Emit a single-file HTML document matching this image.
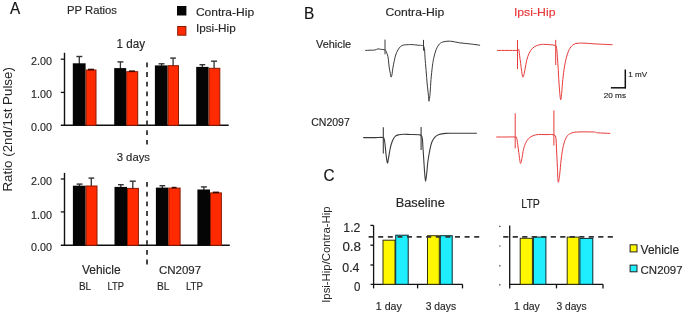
<!DOCTYPE html>
<html><head><meta charset="utf-8"><style>
html,body{margin:0;padding:0;background:#fff;width:685px;height:315px;overflow:hidden}
svg{display:block;font-family:"Liberation Sans",sans-serif;will-change:transform}
</style></head><body>
<svg width="685" height="315" viewBox="0 0 685 315">
<rect width="685" height="315" fill="#fff"/>
<text x="9.9" y="14.0" font-size="16" textLength="10.2" lengthAdjust="spacingAndGlyphs" fill="#111" stroke="#111" stroke-width="0.15" >A</text>
<text x="67.0" y="14.1" font-size="11" textLength="50.0" lengthAdjust="spacingAndGlyphs" fill="#262626" stroke="#262626" stroke-width="0.15" >PP Ratios</text>
<rect x="177.0" y="6.0" width="9.4" height="9.5" fill="#050505"/>
<rect x="177.7" y="26.5" width="8.2" height="8.7" fill="#ff2a00" stroke="#8a1a00" stroke-width="1"/>
<text x="195.9" y="15.5" font-size="11" textLength="58.2" lengthAdjust="spacingAndGlyphs" fill="#262626" stroke="#262626" stroke-width="0.15" >Contra-Hip</text>
<text x="195.9" y="32.2" font-size="11" textLength="39.8" lengthAdjust="spacingAndGlyphs" fill="#262626" stroke="#262626" stroke-width="0.15" >Ipsi-Hip</text>
<text x="116.6" y="47.7" font-size="12" textLength="28.5" lengthAdjust="spacingAndGlyphs" fill="#262626" stroke="#262626" stroke-width="0.15" >1 day</text>
<text x="116.7" y="161.4" font-size="11" textLength="33.3" lengthAdjust="spacingAndGlyphs" fill="#262626" stroke="#262626" stroke-width="0.15" >3 days</text>
<line x1="64.5" y1="52.8" x2="64.5" y2="125.3" stroke="#111" stroke-width="1.4" />
<line x1="60.8" y1="125.3" x2="228.7" y2="125.3" stroke="#111" stroke-width="1.4" />
<line x1="60.8" y1="59.2" x2="64.5" y2="59.2" stroke="#111" stroke-width="1.3" />
<line x1="60.8" y1="92.4" x2="64.5" y2="92.4" stroke="#111" stroke-width="1.3" />
<line x1="79.3" y1="56.5" x2="79.3" y2="64.3" stroke="#333" stroke-width="1.3" />
<line x1="76.4" y1="56.5" x2="82.3" y2="56.5" stroke="#333" stroke-width="1.4" />
<rect x="72.8" y="63.3" width="12.8" height="62.0" fill="#050505"/>
<rect x="86.1" y="70.0" width="9.9" height="55.3" fill="#ff2a00" stroke="#8a1a00" stroke-width="1"/>
<line x1="88.0" y1="69.5" x2="94.0" y2="69.5" stroke="#3a0800" stroke-width="1.6" />
<line x1="120.4" y1="61.9" x2="120.4" y2="69.1" stroke="#333" stroke-width="1.3" />
<line x1="117.4" y1="61.9" x2="123.4" y2="61.9" stroke="#333" stroke-width="1.4" />
<rect x="114.2" y="68.1" width="12.0" height="57.2" fill="#050505"/>
<rect x="126.7" y="71.7" width="11.0" height="53.6" fill="#ff2a00" stroke="#8a1a00" stroke-width="1"/>
<line x1="129.0" y1="71.2" x2="135.0" y2="71.2" stroke="#3a0800" stroke-width="1.6" />
<line x1="161.6" y1="63.8" x2="161.6" y2="66.4" stroke="#333" stroke-width="1.3" />
<line x1="158.6" y1="63.8" x2="164.5" y2="63.8" stroke="#333" stroke-width="1.4" />
<rect x="154.9" y="65.4" width="12.7" height="59.9" fill="#050505"/>
<line x1="173.1" y1="58.1" x2="173.1" y2="66.2" stroke="#333" stroke-width="1.3" />
<line x1="170.2" y1="58.1" x2="175.9" y2="58.1" stroke="#333" stroke-width="1.4" />
<rect x="168.1" y="65.7" width="10.4" height="59.6" fill="#ff2a00" stroke="#8a1a00" stroke-width="1"/>
<line x1="202.3" y1="64.7" x2="202.3" y2="67.9" stroke="#333" stroke-width="1.3" />
<line x1="199.5" y1="64.7" x2="205.2" y2="64.7" stroke="#333" stroke-width="1.4" />
<rect x="196.2" y="66.9" width="12.4" height="58.4" fill="#050505"/>
<line x1="214.1" y1="61.2" x2="214.1" y2="68.8" stroke="#333" stroke-width="1.3" />
<line x1="211.1" y1="61.2" x2="217.1" y2="61.2" stroke="#333" stroke-width="1.4" />
<rect x="209.1" y="68.3" width="10.7" height="57.0" fill="#ff2a00" stroke="#8a1a00" stroke-width="1"/>
<line x1="64.5" y1="172.9" x2="64.5" y2="245.3" stroke="#111" stroke-width="1.4" />
<line x1="60.8" y1="245.3" x2="229.8" y2="245.3" stroke="#111" stroke-width="1.4" />
<line x1="60.8" y1="179.0" x2="64.5" y2="179.0" stroke="#111" stroke-width="1.3" />
<line x1="60.8" y1="211.9" x2="64.5" y2="211.9" stroke="#111" stroke-width="1.3" />
<line x1="79.5" y1="184.1" x2="79.5" y2="186.7" stroke="#333" stroke-width="1.3" />
<line x1="76.6" y1="184.1" x2="82.5" y2="184.1" stroke="#333" stroke-width="1.4" />
<rect x="72.9" y="185.7" width="12.7" height="59.6" fill="#050505"/>
<line x1="91.3" y1="178.1" x2="91.3" y2="186.5" stroke="#333" stroke-width="1.3" />
<line x1="88.5" y1="178.1" x2="94.2" y2="178.1" stroke="#333" stroke-width="1.4" />
<rect x="86.1" y="186.0" width="10.9" height="59.3" fill="#ff2a00" stroke="#8a1a00" stroke-width="1"/>
<line x1="120.8" y1="184.7" x2="120.8" y2="187.9" stroke="#333" stroke-width="1.3" />
<line x1="118.0" y1="184.7" x2="123.7" y2="184.7" stroke="#333" stroke-width="1.4" />
<rect x="114.5" y="186.9" width="12.5" height="58.4" fill="#050505"/>
<line x1="132.8" y1="181.2" x2="132.8" y2="188.9" stroke="#333" stroke-width="1.3" />
<line x1="129.7" y1="181.2" x2="135.8" y2="181.2" stroke="#333" stroke-width="1.4" />
<rect x="127.5" y="188.4" width="10.9" height="56.9" fill="#ff2a00" stroke="#8a1a00" stroke-width="1"/>
<line x1="162.3" y1="185.7" x2="162.3" y2="188.6" stroke="#333" stroke-width="1.3" />
<line x1="159.5" y1="185.7" x2="165.2" y2="185.7" stroke="#333" stroke-width="1.4" />
<rect x="155.9" y="187.6" width="12.4" height="57.7" fill="#050505"/>
<rect x="168.8" y="188.1" width="11.3" height="57.2" fill="#ff2a00" stroke="#8a1a00" stroke-width="1"/>
<line x1="171.7" y1="187.6" x2="176.6" y2="187.6" stroke="#3a0800" stroke-width="1.6" />
<line x1="203.9" y1="186.9" x2="203.9" y2="190.5" stroke="#333" stroke-width="1.3" />
<line x1="200.9" y1="186.9" x2="206.9" y2="186.9" stroke="#333" stroke-width="1.4" />
<rect x="197.4" y="189.5" width="12.6" height="55.8" fill="#050505"/>
<rect x="210.5" y="192.9" width="10.9" height="52.4" fill="#ff2a00" stroke="#8a1a00" stroke-width="1"/>
<line x1="212.8" y1="192.4" x2="219.0" y2="192.4" stroke="#3a0800" stroke-width="1.6" />
<text x="31.0" y="64.5" font-size="11.5" textLength="20.9" lengthAdjust="spacingAndGlyphs" fill="#262626" stroke="#262626" stroke-width="0.15" >2.00</text>
<text x="31.0" y="97.8" font-size="11.5" textLength="20.9" lengthAdjust="spacingAndGlyphs" fill="#262626" stroke="#262626" stroke-width="0.15" >1.00</text>
<text x="31.0" y="131.4" font-size="11.5" textLength="20.9" lengthAdjust="spacingAndGlyphs" fill="#262626" stroke="#262626" stroke-width="0.15" >0.00</text>
<text x="31.0" y="184.7" font-size="11.5" textLength="20.9" lengthAdjust="spacingAndGlyphs" fill="#262626" stroke="#262626" stroke-width="0.15" >2.00</text>
<text x="31.0" y="218.5" font-size="11.5" textLength="20.9" lengthAdjust="spacingAndGlyphs" fill="#262626" stroke="#262626" stroke-width="0.15" >1.00</text>
<text x="31.0" y="251.3" font-size="11.5" textLength="20.9" lengthAdjust="spacingAndGlyphs" fill="#262626" stroke="#262626" stroke-width="0.15" >0.00</text>
<line x1="147.0" y1="62.4" x2="147.0" y2="144.5" stroke="#333" stroke-width="1.8" stroke-dasharray="4.8 4.9"/>
<line x1="147.0" y1="182.0" x2="147.0" y2="264.5" stroke="#333" stroke-width="1.8" stroke-dasharray="4.8 4.9"/>
<text x="81.9" y="273.6" font-size="12" textLength="38.7" lengthAdjust="spacingAndGlyphs" fill="#262626" stroke="#262626" stroke-width="0.15" >Vehicle</text>
<text x="158.9" y="273.6" font-size="11" textLength="42.2" lengthAdjust="spacingAndGlyphs" fill="#262626" stroke="#262626" stroke-width="0.15" >CN2097</text>
<text x="78.9" y="289.8" font-size="11" textLength="12.2" lengthAdjust="spacingAndGlyphs" fill="#262626" stroke="#262626" stroke-width="0.15" >BL</text>
<text x="107.4" y="289.8" font-size="11" textLength="16.5" lengthAdjust="spacingAndGlyphs" fill="#262626" stroke="#262626" stroke-width="0.15" >LTP</text>
<text x="157.0" y="289.8" font-size="11" textLength="12.4" lengthAdjust="spacingAndGlyphs" fill="#262626" stroke="#262626" stroke-width="0.15" >BL</text>
<text x="185.9" y="289.8" font-size="11" textLength="17.1" lengthAdjust="spacingAndGlyphs" fill="#262626" stroke="#262626" stroke-width="0.15" >LTP</text>
<text x="0" y="0" font-size="12" fill="#262626" textLength="124.5" lengthAdjust="spacingAndGlyphs" transform="translate(12.0,191.6) rotate(-90)">Ratio (2nd/1st Pulse)</text>
<text x="304.1" y="18.9" font-size="16" textLength="10.3" lengthAdjust="spacingAndGlyphs" fill="#111" stroke="#111" stroke-width="0.15" >B</text>
<text x="385.4" y="15.8" font-size="11.3" textLength="58.9" lengthAdjust="spacingAndGlyphs" fill="#262626" stroke="#262626" stroke-width="0.15" >Contra-Hip</text>
<text x="513.9" y="15.8" font-size="11.3" textLength="41.6" lengthAdjust="spacingAndGlyphs" fill="#e8383b" stroke="#e8383b" stroke-width="0.15" >Ipsi-Hip</text>
<text x="316.0" y="47.6" font-size="11" textLength="35.2" lengthAdjust="spacingAndGlyphs" fill="#262626" stroke="#262626" stroke-width="0.15" >Vehicle</text>
<text x="311.2" y="126.4" font-size="10.5" textLength="38.6" lengthAdjust="spacingAndGlyphs" fill="#262626" stroke="#262626" stroke-width="0.15" >CN2097</text>
<path d="M365.60,50.40 C366.33,50.37 368.47,50.27 370.00,50.20 C371.53,50.13 373.48,50.22 374.80,50.00 C376.12,49.78 376.92,49.02 377.90,48.90 C378.88,48.78 379.63,49.17 380.70,49.30 C381.77,49.43 383.47,49.50 384.30,49.70 C385.13,49.90 385.10,49.38 385.70,50.50 C386.30,51.62 387.42,54.47 387.90,56.40 C388.38,58.33 388.37,60.18 388.60,62.10 C388.83,64.02 389.00,65.98 389.30,67.90 C389.60,69.82 390.12,72.07 390.40,73.60 C390.68,75.13 390.75,76.87 391.00,77.10 C391.25,77.33 391.58,76.53 391.90,75.00 C392.22,73.47 392.50,70.28 392.90,67.90 C393.30,65.52 393.83,62.85 394.30,60.70 C394.77,58.55 395.10,56.78 395.70,55.00 C396.30,53.22 397.07,51.43 397.90,50.00 C398.73,48.57 399.75,47.23 400.70,46.40 C401.65,45.57 402.40,45.28 403.60,45.00 C404.80,44.72 406.50,44.77 407.90,44.70 C409.30,44.63 410.10,44.50 412.00,44.60 C413.90,44.70 417.50,45.12 419.30,45.30 C421.10,45.48 421.95,45.18 422.80,45.70 C423.65,46.22 424.03,46.47 424.40,48.40 C424.77,50.33 424.72,53.60 425.00,57.30 C425.28,61.00 425.73,66.15 426.10,70.60 C426.47,75.05 426.82,79.92 427.20,84.00 C427.58,88.08 428.10,92.23 428.40,95.10 C428.70,97.97 428.72,101.57 429.00,101.20 C429.28,100.83 429.77,96.52 430.10,92.90 C430.43,89.28 430.62,83.95 431.00,79.50 C431.38,75.05 431.92,69.90 432.40,66.20 C432.88,62.50 433.27,60.08 433.90,57.30 C434.53,54.52 435.27,51.73 436.20,49.50 C437.13,47.27 438.20,45.20 439.50,43.90 C440.80,42.60 442.15,42.15 444.00,41.70 C445.85,41.25 448.02,41.02 450.60,41.20 C453.18,41.38 456.13,42.33 459.50,42.80 C462.87,43.27 467.43,43.60 470.80,44.00 C474.17,44.40 478.22,45.00 479.70,45.20" fill="none" stroke="#3a3a3a" stroke-width="1.0" stroke-linejoin="round" stroke-linecap="round"/>
<line x1="385.0" y1="39.6" x2="385.0" y2="54.3" stroke="#3a3a3a" stroke-width="1.0" />
<line x1="423.5" y1="39.9" x2="423.5" y2="50.6" stroke="#3a3a3a" stroke-width="1.0" />
<path d="M363.60,137.60 C365.50,137.60 371.77,137.60 375.00,137.60 C378.23,137.60 381.42,137.08 383.00,137.60 C384.58,138.12 384.12,139.13 384.50,140.70 C384.88,142.27 385.03,144.62 385.30,147.00 C385.57,149.38 385.75,152.33 386.10,155.00 C386.45,157.67 387.00,162.47 387.40,163.00 C387.80,163.53 388.13,160.07 388.50,158.20 C388.87,156.33 389.20,153.92 389.60,151.80 C390.00,149.68 390.28,147.62 390.90,145.50 C391.52,143.38 392.50,140.70 393.30,139.10 C394.10,137.50 394.77,136.62 395.70,135.90 C396.63,135.18 397.58,135.07 398.90,134.80 C400.22,134.53 401.75,134.35 403.60,134.30 C405.45,134.25 407.27,134.40 410.00,134.50 C412.73,134.60 417.97,134.35 420.00,134.90 C422.03,135.45 421.72,135.83 422.20,137.80 C422.68,139.77 422.63,142.98 422.90,146.70 C423.17,150.42 423.50,155.63 423.80,160.10 C424.10,164.57 424.40,169.98 424.70,173.50 C425.00,177.02 425.27,181.20 425.60,181.20 C425.93,181.20 426.33,176.65 426.70,173.50 C427.07,170.35 427.32,166.02 427.80,162.30 C428.28,158.58 428.93,154.53 429.60,151.20 C430.27,147.87 430.92,144.65 431.80,142.30 C432.68,139.95 433.70,138.40 434.90,137.10 C436.10,135.80 437.22,135.12 439.00,134.50 C440.78,133.88 443.02,133.60 445.60,133.40 C448.18,133.20 449.37,133.32 454.50,133.30 C459.63,133.28 472.75,133.30 476.40,133.30" fill="none" stroke="#3a3a3a" stroke-width="1.1" stroke-linejoin="round" stroke-linecap="round"/>
<line x1="383.3" y1="127.2" x2="383.3" y2="153.4" stroke="#3a3a3a" stroke-width="1.1" />
<line x1="421.1" y1="127.1" x2="421.1" y2="150.1" stroke="#3a3a3a" stroke-width="1.1" />
<path d="M497.40,50.40 C499.00,50.40 503.70,50.40 507.00,50.40 C510.30,50.40 515.23,50.50 517.20,50.40 C519.17,50.30 518.40,48.93 518.80,49.80 C519.20,50.67 519.28,53.30 519.60,55.60 C519.92,57.90 520.35,60.95 520.70,63.60 C521.05,66.25 521.35,69.25 521.70,71.50 C522.05,73.75 522.43,76.57 522.80,77.10 C523.17,77.63 523.50,76.17 523.90,74.70 C524.30,73.23 524.73,70.68 525.20,68.30 C525.67,65.92 526.05,62.90 526.70,60.40 C527.35,57.90 528.17,55.28 529.10,53.30 C530.03,51.32 531.10,49.75 532.30,48.50 C533.50,47.25 534.85,46.47 536.30,45.80 C537.75,45.13 539.55,44.73 541.00,44.50 C542.45,44.27 542.67,44.25 545.00,44.40 C547.33,44.55 553.07,44.75 555.00,45.40 C556.93,46.05 556.20,46.33 556.60,48.30 C557.00,50.27 557.12,53.48 557.40,57.20 C557.68,60.92 558.00,65.78 558.30,70.60 C558.60,75.42 558.82,81.27 559.20,86.10 C559.58,90.93 560.18,98.48 560.60,99.60 C561.02,100.72 561.33,96.17 561.70,92.80 C562.07,89.43 562.32,83.85 562.80,79.40 C563.28,74.95 563.93,69.98 564.60,66.10 C565.27,62.22 565.92,59.07 566.80,56.10 C567.68,53.13 568.72,50.27 569.90,48.30 C571.08,46.33 572.50,45.15 573.90,44.30 C575.30,43.45 576.45,43.38 578.30,43.20 C580.15,43.02 582.22,43.08 585.00,43.20 C587.78,43.32 590.47,43.65 595.00,43.90 C599.53,44.15 609.33,44.57 612.20,44.70" fill="none" stroke="#e83a3a" stroke-width="1.0" stroke-linejoin="round" stroke-linecap="round"/>
<line x1="517.5" y1="40.1" x2="517.5" y2="69.1" stroke="#e83a3a" stroke-width="1.0" />
<line x1="555.7" y1="39.9" x2="555.7" y2="65.0" stroke="#e83a3a" stroke-width="1.0" />
<path d="M496.70,137.00 C498.08,137.00 501.92,137.00 505.00,137.00 C508.08,137.00 513.25,136.83 515.20,137.00 C517.15,137.17 516.28,136.78 516.70,138.00 C517.12,139.22 517.35,141.88 517.70,144.30 C518.05,146.72 518.35,149.33 518.80,152.50 C519.25,155.67 519.88,162.27 520.40,163.30 C520.92,164.33 521.38,161.02 521.90,158.70 C522.42,156.38 522.82,152.15 523.50,149.40 C524.18,146.65 525.07,144.08 526.00,142.20 C526.93,140.32 527.90,139.20 529.10,138.10 C530.30,137.00 531.65,136.20 533.20,135.60 C534.75,135.00 536.43,134.67 538.40,134.50 C540.37,134.33 542.55,134.57 545.00,134.60 C547.45,134.63 551.30,134.23 553.10,134.70 C554.90,135.17 555.22,134.68 555.80,137.40 C556.38,140.12 556.33,146.03 556.60,151.00 C556.87,155.97 557.13,162.03 557.40,167.20 C557.67,172.37 557.83,180.65 558.20,182.00 C558.57,183.35 559.10,179.12 559.60,175.30 C560.10,171.48 560.57,164.07 561.20,159.10 C561.83,154.13 562.50,149.20 563.40,145.50 C564.30,141.80 565.38,138.92 566.60,136.90 C567.82,134.88 568.90,134.22 570.70,133.40 C572.50,132.58 573.58,132.23 577.40,132.00 C581.22,131.77 590.22,131.87 593.60,132.00 C596.98,132.13 594.98,132.57 597.70,132.80 C600.42,133.03 607.87,133.30 609.90,133.40" fill="none" stroke="#e83a3a" stroke-width="1.0" stroke-linejoin="round" stroke-linecap="round"/>
<line x1="515.2" y1="113.3" x2="515.2" y2="148.4" stroke="#e83a3a" stroke-width="1.0" />
<line x1="553.9" y1="110.4" x2="553.9" y2="145.5" stroke="#e83a3a" stroke-width="1.0" />
<line x1="625.3" y1="69.5" x2="625.3" y2="88.3" stroke="#111" stroke-width="1.5" />
<line x1="610.9" y1="87.8" x2="626.0" y2="87.8" stroke="#111" stroke-width="1.5" />
<text x="628.3" y="77.4" font-size="7.5" textLength="18.8" lengthAdjust="spacingAndGlyphs" fill="#262626" stroke="#262626" stroke-width="0.15" >1 mV</text>
<text x="603.7" y="98.3" font-size="8" textLength="22.3" lengthAdjust="spacingAndGlyphs" fill="#262626" stroke="#262626" stroke-width="0.15" >20 ms</text>
<text x="323.6" y="181.0" font-size="16" textLength="11.1" lengthAdjust="spacingAndGlyphs" fill="#111" stroke="#111" stroke-width="0.15" >C</text>
<text x="395.7" y="207.4" font-size="12" textLength="49.1" lengthAdjust="spacingAndGlyphs" fill="#262626" stroke="#262626" stroke-width="0.15" >Baseline</text>
<text x="521.3" y="207.6" font-size="12.3" textLength="18.6" lengthAdjust="spacingAndGlyphs" fill="#262626" stroke="#262626" stroke-width="0.15" >LTP</text>
<line x1="373.6" y1="225.4" x2="373.6" y2="288.4" stroke="#111" stroke-width="1.3" />
<line x1="370.6" y1="284.3" x2="462.5" y2="284.3" stroke="#111" stroke-width="1.3" />
<line x1="417.6" y1="284.3" x2="417.6" y2="288.4" stroke="#111" stroke-width="1.3" />
<line x1="462.5" y1="284.3" x2="462.5" y2="288.4" stroke="#111" stroke-width="1.3" />
<line x1="370.4" y1="225.4" x2="373.6" y2="225.4" stroke="#111" stroke-width="1.3" />
<line x1="370.4" y1="245.2" x2="373.6" y2="245.2" stroke="#111" stroke-width="1.3" />
<line x1="370.4" y1="265.0" x2="373.6" y2="265.0" stroke="#111" stroke-width="1.3" />
<rect x="383.0" y="240.2" width="12.0" height="44.1" fill="#fff700" stroke="#33330a" stroke-width="1"/>
<rect x="395.7" y="235.2" width="12.5" height="49.1" fill="#1eeefd" stroke="#0a2a30" stroke-width="1"/>
<rect x="427.5" y="235.7" width="11.8" height="48.6" fill="#fff700" stroke="#33330a" stroke-width="1"/>
<rect x="440.3" y="235.7" width="11.9" height="48.6" fill="#1eeefd" stroke="#0a2a30" stroke-width="1"/>
<line x1="509.7" y1="225.4" x2="509.7" y2="288.4" stroke="#111" stroke-width="1.3" />
<line x1="509.1" y1="284.3" x2="603.0" y2="284.3" stroke="#111" stroke-width="1.3" />
<line x1="556.5" y1="284.3" x2="556.5" y2="288.4" stroke="#111" stroke-width="1.3" />
<line x1="603.0" y1="284.3" x2="603.0" y2="288.4" stroke="#111" stroke-width="1.3" />
<rect x="520.2" y="238.3" width="12.2" height="46.0" fill="#fff700" stroke="#33330a" stroke-width="1"/>
<rect x="533.4" y="237.1" width="12.5" height="47.2" fill="#1eeefd" stroke="#0a2a30" stroke-width="1"/>
<rect x="567.2" y="237.1" width="11.7" height="47.2" fill="#fff700" stroke="#33330a" stroke-width="1"/>
<rect x="579.9" y="238.4" width="12.9" height="45.9" fill="#1eeefd" stroke="#0a2a30" stroke-width="1"/>
<line x1="499.0" y1="226.4" x2="500.6" y2="226.4" stroke="#555" stroke-width="1.2" />
<line x1="499.0" y1="246.0" x2="500.6" y2="246.0" stroke="#555" stroke-width="1.2" />
<line x1="499.0" y1="265.8" x2="500.6" y2="265.8" stroke="#555" stroke-width="1.2" />
<line x1="499.0" y1="284.8" x2="500.6" y2="284.8" stroke="#555" stroke-width="1.2" />
<line x1="368.6" y1="236.9" x2="479.2" y2="236.9" stroke="#333" stroke-width="1.7" stroke-dasharray="5 4.6"/>
<line x1="503.2" y1="236.9" x2="613.6" y2="236.9" stroke="#333" stroke-width="1.7" stroke-dasharray="5.2 4.3"/>
<text x="343.3" y="231.8" font-size="12.4" textLength="17.1" lengthAdjust="spacingAndGlyphs" fill="#262626" stroke="#262626" stroke-width="0.15" >1.2</text>
<text x="342.4" y="250.8" font-size="12.4" textLength="18.6" lengthAdjust="spacingAndGlyphs" fill="#262626" stroke="#262626" stroke-width="0.15" >0.8</text>
<text x="342.3" y="271.5" font-size="12.4" textLength="17.2" lengthAdjust="spacingAndGlyphs" fill="#262626" stroke="#262626" stroke-width="0.15" >0.4</text>
<text x="353.9" y="290.7" font-size="12.4" textLength="6.4" lengthAdjust="spacingAndGlyphs" fill="#262626" stroke="#262626" stroke-width="0.15" >0</text>
<text x="375.8" y="310.4" font-size="10.6" textLength="26.0" lengthAdjust="spacingAndGlyphs" fill="#262626" stroke="#262626" stroke-width="0.15" >1 day</text>
<text x="425.8" y="310.4" font-size="10.6" textLength="30.3" lengthAdjust="spacingAndGlyphs" fill="#262626" stroke="#262626" stroke-width="0.15" >3 days</text>
<text x="514.1" y="310.4" font-size="10.6" textLength="25.8" lengthAdjust="spacingAndGlyphs" fill="#262626" stroke="#262626" stroke-width="0.15" >1 day</text>
<text x="556.4" y="310.4" font-size="10.6" textLength="30.2" lengthAdjust="spacingAndGlyphs" fill="#262626" stroke="#262626" stroke-width="0.15" >3 days</text>
<rect x="630.1" y="244.8" width="6.9" height="7.1" fill="#fff700" stroke="#222" stroke-width="1"/>
<rect x="630.1" y="265.1" width="6.9" height="6.7" fill="#1eeefd" stroke="#222" stroke-width="1"/>
<text x="640.6" y="253.6" font-size="12" textLength="38.5" lengthAdjust="spacingAndGlyphs" fill="#262626" stroke="#262626" stroke-width="0.15" >Vehicle</text>
<text x="640.6" y="273.7" font-size="11" textLength="42.0" lengthAdjust="spacingAndGlyphs" fill="#262626" stroke="#262626" stroke-width="0.15" >CN2097</text>
<text x="0" y="0" font-size="11" fill="#262626" textLength="96.4" lengthAdjust="spacingAndGlyphs" transform="translate(329.9,302.8) rotate(-90)">Ipsi-Hip/Contra-Hip</text>
</svg>
</body></html>
